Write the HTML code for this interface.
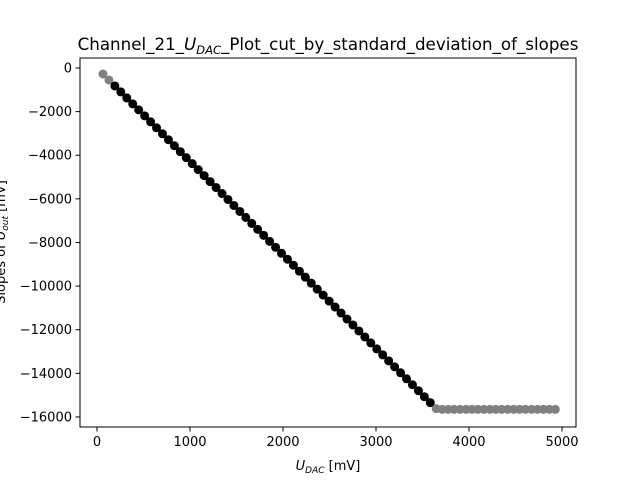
<!DOCTYPE html>
<html><head><meta charset="utf-8"><style>
body{margin:0;background:#fff}
svg text{font-family:"DejaVu Sans","Liberation Sans",sans-serif;fill:#000}
</style></head><body>
<svg id="chart" width="640" height="480" viewBox="0 0 640 480">
<rect width="640" height="480" fill="#fff"/>
<g id="marks"></g>
<rect x="80" y="58" width="496" height="369" fill="none" stroke="#000" stroke-width="1"/>
<g id="ticks"></g>
<text x="328" y="50" font-size="16.7" text-anchor="middle">Channel_21_<tspan font-style="italic">U</tspan><tspan font-size="11.5" dy="4" font-style="italic">DAC</tspan><tspan dy="-4">_Plot_cut_by_standard_deviation_of_slopes</tspan></text>
<text x="328" y="470" font-size="13" text-anchor="middle"><tspan font-style="italic">U</tspan><tspan font-size="9" dy="3" font-style="italic">DAC</tspan><tspan dy="-3"> [mV]</tspan></text>
<text transform="translate(5,242) rotate(-90)" font-size="13" text-anchor="middle">Slopes of <tspan font-style="italic">U</tspan><tspan font-size="9" dy="3" font-style="italic">out</tspan><tspan dy="-3"> [mV]</tspan></text>
</svg>
<script>
const xValues=[64,128,192,256,320,384,448,512,576,640,704,768,832,896,960,1024,1088,1152,1216,1280,1344,1408,1472,1536,1600,1664,1728,1792,1856,1920,1984,2048,2112,2176,2240,2304,2368,2432,2496,2560,2624,2688,2752,2816,2880,2944,3008,3072,3136,3200,3264,3328,3392,3456,3520,3584,3648,3712,3776,3840,3904,3968,4032,4096,4160,4224,4288,4352,4416,4480,4544,4608,4672,4736,4800,4864,4928];
const yValues=[-275,-549,-823,-1097,-1371,-1645,-1919,-2193,-2467,-2741,-3015,-3289,-3563,-3837,-4111,-4385,-4659,-4933,-5207,-5481,-5755,-6029,-6303,-6577,-6851,-7125,-7399,-7673,-7947,-8221,-8495,-8769,-9043,-9317,-9591,-9865,-10139,-10413,-10687,-10961,-11235,-11509,-11783,-12057,-12331,-12605,-12879,-13153,-13427,-13701,-13975,-14249,-14523,-14797,-15071,-15345,-15620,-15650,-15650,-15650,-15650,-15650,-15650,-15650,-15650,-15650,-15650,-15650,-15650,-15650,-15650,-15650,-15650,-15650,-15650,-15650,-15650];
const keptFlags=[0,0,1,1,1,1,1,1,1,1,1,1,1,1,1,1,1,1,1,1,1,1,1,1,1,1,1,1,1,1,1,1,1,1,1,1,1,1,1,1,1,1,1,1,1,1,1,1,1,1,1,1,1,1,1,1,0,0,0,0,0,0,0,0,0,0,0,0,0,0,0,0,0,0,0,0,0];
const xTicks=[0,1000,2000,3000,4000,5000];
const yTicks=[0,-2000,-4000,-6000,-8000,-10000,-12000,-14000,-16000];
const NS='http://www.w3.org/2000/svg';
function sx(v){return 97+v*0.093;}
function sy(v){return 68-v*0.02181;}
const marks=document.getElementById('marks');
xValues.forEach((x,i)=>{
 const c=document.createElementNS(NS,'circle');
 c.setAttribute('cx',sx(x));c.setAttribute('cy',sy(yValues[i]));c.setAttribute('r',4.5);
 c.setAttribute('fill',keptFlags[i]?'#000':'#808080');
 
 
 marks.appendChild(c);
});
const tg=document.getElementById('ticks');
xTicks.forEach(t=>{
 const l=document.createElementNS(NS,'line');
 l.setAttribute('x1',sx(t));l.setAttribute('x2',sx(t));l.setAttribute('y1',427);l.setAttribute('y2',431.5);l.setAttribute('stroke','#000');
 
 
 tg.appendChild(l);
 const tx=document.createElementNS(NS,'text');
 tx.setAttribute('x',sx(t));tx.setAttribute('y',446);tx.setAttribute('font-size','13');tx.setAttribute('text-anchor','middle');
 tx.textContent=String(t);
 
 
 tg.appendChild(tx);
});
yTicks.forEach(t=>{
 const l=document.createElementNS(NS,'line');
 l.setAttribute('x1',75.5);l.setAttribute('x2',80);l.setAttribute('y1',sy(t));l.setAttribute('y2',sy(t));l.setAttribute('stroke','#000');
 
 
 tg.appendChild(l);
 const tx=document.createElementNS(NS,'text');
 tx.setAttribute('x',72);tx.setAttribute('y',sy(t)+4.5);tx.setAttribute('font-size','13');tx.setAttribute('text-anchor','end');
 tx.textContent=t<0?'\u2212'+Math.abs(t):String(t);
 
 
 tg.appendChild(tx);
});
</script>
</body></html>
